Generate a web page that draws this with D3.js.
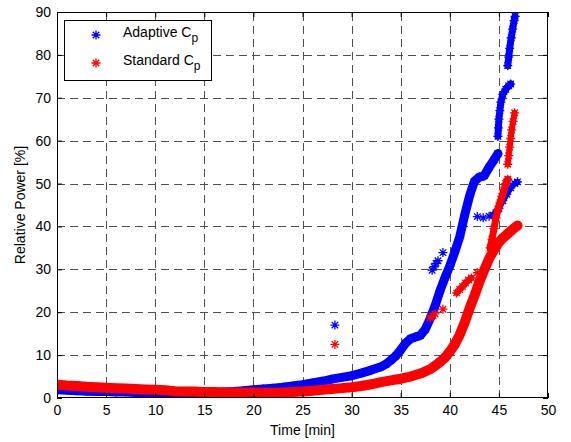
<!DOCTYPE html>
<html>
<head>
<meta charset="utf-8">
<script src="https://cdn.jsdelivr.net/npm/d3@7"></script>
<style>
  html, body { margin: 0; padding: 0; background: #fff; }
  svg { display: block; font-family: "Liberation Sans", Arial, Helvetica, sans-serif; }
</style>
</head>
<body>
<svg id="chart" width="571" height="442"></svg>
<script>
// ---------------- DATA ----------------
const xTicks = [0, 5, 10, 15, 20, 25, 30, 35, 40, 45, 50];
const yTicks = [0, 10, 20, 30, 40, 50, 60, 70, 80, 90];
const xLabel = "Time [min]";
const yLabel = "Relative Power [%]";
const seriesNames = ["Adaptive C", "Standard C"];
const seriesSub = "p";

// Adaptive Cp (blue) - [time, power]
const adaptiveMain = [[0,1.9],[1,1.8],[2,1.7],[3,1.6],[4,1.5],[5,1.5],[6,1.4],[7,1.4],[8,1.3],[9,1.3],[10,1.2],[11,1.2],[12,1.2],[13,1.2],[14,1.2],[15,1.2],[16,1.3],[17,1.4],[18,1.5],[19,1.7],[20,1.9],[21,2.1],[22,2.3],[23,2.5],[24,2.8],[25,3.1],[26,3.5],[27,3.9],[28,4.4],[29,4.8],[30,5.2],[31,5.8],[32,6.5],[33,7.3],[33.5,7.9],[34,8.8],[34.5,9.8],[35,11.2],[35.5,12.8],[36,13.8],[36.5,14.2],[37,14.6],[37.5,16.0],[38,18.5],[38.5,21.5],[39,25.0],[39.5,28.0],[40,30.8],[40.5,34.0],[41,37.5],[41.5,42.5],[42,47.0],[42.5,50.5],[43,51.5],[43.5,51.8],[44,53.8],[44.5,55.5],[44.9,57.0]];
const adaptiveColumn = [[44.9,61.0],[44.95,63.0],[45.0,65.0],[45.1,67.0],[45.2,69.0],[45.4,70.8],[45.7,72.0],[46.0,72.8],[46.2,73.2]];
const adaptiveUpper = [[45.9,77.5],[46.0,79.5],[46.1,81.5],[46.25,84.0],[46.4,86.0],[46.55,88.0],[46.65,89.0]];
const adaptiveLower = [[44.4,42.6],[44.7,43.2],[45.0,44.2],[45.4,46.0],[45.8,47.5],[46.2,49.0],[46.6,50.0],[46.9,50.4]];
const adaptiveDots = [[28.3,17.0],[38.2,29.8],[38.4,30.6],[38.6,31.4],[38.8,32.0],[39.3,33.9],[42.8,42.3],[43.4,42.0],[44.0,42.4]];

// Standard Cp (red) - [time, power]
const standardMain = [[0,3.1],[1,2.9],[2,2.8],[3,2.6],[4,2.5],[5,2.4],[6,2.3],[7,2.2],[8,2.1],[9,2.0],[10,1.9],[11,1.8],[12,1.6],[13,1.5],[14,1.5],[15,1.4],[16,1.4],[17,1.3],[18,1.3],[19,1.3],[20,1.3],[21,1.2],[22,1.2],[23,1.3],[24,1.4],[25,1.5],[26,1.7],[27,1.9],[28,2.1],[29,2.3],[30,2.5],[31,2.8],[32,3.2],[33,3.7],[34,4.1],[35,4.5],[36,5.0],[37,5.7],[38,6.7],[38.5,7.5],[39,8.4],[39.5,9.4],[40,10.8],[40.5,12.5],[41,14.7],[41.5,17.5],[42,20.8],[42.5,23.8],[43,27.0],[43.5,29.8],[44,32.5],[44.5,34.5],[45,36.3],[45.5,37.5],[46,38.5],[46.5,39.5],[46.9,40.2]];
const standardBranch = [[44.1,35.0],[44.3,37.0],[44.5,39.5],[44.7,42.0],[44.9,44.0],[45.1,45.5],[45.3,47.0],[45.5,48.5],[45.7,50.0],[45.9,51.0]];
const standardUpper = [[45.9,54.5],[46.0,56.5],[46.1,58.5],[46.2,60.5],[46.3,62.5],[46.45,64.5],[46.6,66.5]];
const standardSegment = [[40.7,24.5],[41.0,25.3],[41.3,26.0],[41.6,26.8],[41.9,27.5],[42.2,28.0]];
const standardDots = [[28.3,12.5],[38.0,18.7],[38.3,19.2],[38.5,19.6],[39.3,20.7],[42.8,29.2]];

// ---------------- CHART ----------------
const W = 571, H = 442;
const m = { left: 57, right: 548, top: 12, bottom: 398 };
const BLUE = "#0000ff", RED = "#ff0000";
const FONT = 14;

const svg = d3.select("#chart");
const x = d3.scaleLinear().domain([0, 50]).range([m.left, m.right]);
const y = d3.scaleLinear().domain([0, 90]).range([m.bottom, m.top]);

svg.append("rect").attr("width", W).attr("height", H).attr("fill", "#fff");

svg.append("defs").append("clipPath").attr("id", "clip")
  .append("rect").attr("x", m.left).attr("y", m.top)
  .attr("width", m.right - m.left).attr("height", m.bottom - m.top);

// grid
const grid = svg.append("g").attr("stroke", "#222").attr("stroke-width", 1)
  .attr("stroke-dasharray", "8,5").attr("opacity", 0.8);
grid.selectAll("line.vx").data(xTicks.slice(1, -1)).join("line")
  .attr("x1", d => Math.round(x(d)) + 0.5).attr("x2", d => Math.round(x(d)) + 0.5)
  .attr("y1", m.bottom).attr("y2", m.top);
grid.selectAll("line.hy").data(yTicks.slice(1, -1)).join("line")
  .attr("y1", d => Math.round(y(d)) + 0.5).attr("y2", d => Math.round(y(d)) + 0.5)
  .attr("x1", m.left).attr("x2", m.right);

// asterisk marker
function star(r) {
  const k = r * 0.72;
  return `M${-r},0H${r}M0,${-r}V${r}M${-k},${-k}L${k},${k}M${-k},${k}L${k},${-k}`;
}

const line = d3.line().x(d => x(d[0])).y(d => y(d[1]));
const plot = svg.append("g").attr("clip-path", "url(#clip)");

function drawSeries(color, bands, dots) {
  const g = plot.append("g");
  bands.forEach(b => {
    g.append("path").datum(b.data).attr("d", line)
      .attr("fill", "none").attr("stroke", color)
      .attr("stroke-width", b.w).attr("stroke-linejoin", "round").attr("stroke-linecap", "round");
  });
  const all = bands.flatMap(b => b.data).concat(dots);
  g.selectAll("path.pt").data(all).join("path").attr("class", "pt")
    .attr("transform", d => `translate(${x(d[0])},${y(d[1])})`)
    .attr("d", star(4.5)).attr("fill", "none").attr("stroke", color).attr("stroke-width", 1.3);
}

drawSeries(BLUE, [
  { data: adaptiveMain, w: 9 },
  { data: adaptiveColumn, w: 7 },
  { data: adaptiveUpper, w: 7 },
  { data: adaptiveLower, w: 6 }
], adaptiveDots);

drawSeries(RED, [
  { data: standardMain, w: 10 },
  { data: standardBranch, w: 7 },
  { data: standardUpper, w: 6 },
  { data: standardSegment, w: 6 }
], standardDots);

// box
svg.append("rect").attr("x", m.left + 0.5).attr("y", m.top + 0.5)
  .attr("width", m.right - m.left - 1).attr("height", m.bottom - m.top - 1)
  .attr("fill", "none").attr("stroke", "#000").attr("stroke-width", 1);

// axes
function styleAxis(g) {
  g.select(".domain").remove();
  g.selectAll(".tick line").attr("stroke", "#000");
  g.selectAll(".tick text").attr("font-size", FONT).attr("fill", "#000")
    .attr("font-family", "Liberation Sans, Arial, sans-serif");
}
svg.append("g").attr("transform", `translate(0,${m.bottom})`)
  .call(d3.axisBottom(x).tickValues(xTicks).tickSizeInner(-5).tickSizeOuter(0).tickPadding(7))
  .call(styleAxis);
svg.append("g").attr("transform", `translate(0,${m.top})`)
  .call(d3.axisTop(x).tickValues(xTicks).tickSizeInner(-5).tickSizeOuter(0).tickFormat(""))
  .call(styleAxis);
svg.append("g").attr("transform", `translate(${m.left},0)`)
  .call(d3.axisLeft(y).tickValues(yTicks).tickSizeInner(-5).tickSizeOuter(0).tickPadding(6))
  .call(styleAxis);
svg.append("g").attr("transform", `translate(${m.right},0)`)
  .call(d3.axisRight(y).tickValues(yTicks).tickSizeInner(-5).tickSizeOuter(0).tickFormat(""))
  .call(styleAxis);

// axis labels
svg.append("text").attr("x", (m.left + m.right) / 2).attr("y", 435)
  .attr("text-anchor", "middle").attr("font-size", FONT).text(xLabel);
svg.append("text").attr("transform", `translate(25,${(m.top + m.bottom) / 2}) rotate(-90)`)
  .attr("text-anchor", "middle").attr("font-size", FONT).text(yLabel);

// legend
const lg = svg.append("g");
lg.append("rect").attr("x", 64.5).attr("y", 20.5).attr("width", 147).attr("height", 60)
  .attr("fill", "#fff").attr("stroke", "#000").attr("stroke-width", 1);
[[BLUE, 35], [RED, 63]].forEach(([c, yy], i) => {
  lg.append("path").attr("transform", `translate(96,${yy})`).attr("d", star(4.5))
    .attr("fill", "none").attr("stroke", c).attr("stroke-width", 1.3);
  const t = lg.append("text").attr("x", 123).attr("y", yy + 2).attr("font-size", FONT);
  t.append("tspan").text(seriesNames[i]);
  t.append("tspan").attr("dy", 5).attr("font-size", 12).text(seriesSub);
});
</script>
</body>
</html>
